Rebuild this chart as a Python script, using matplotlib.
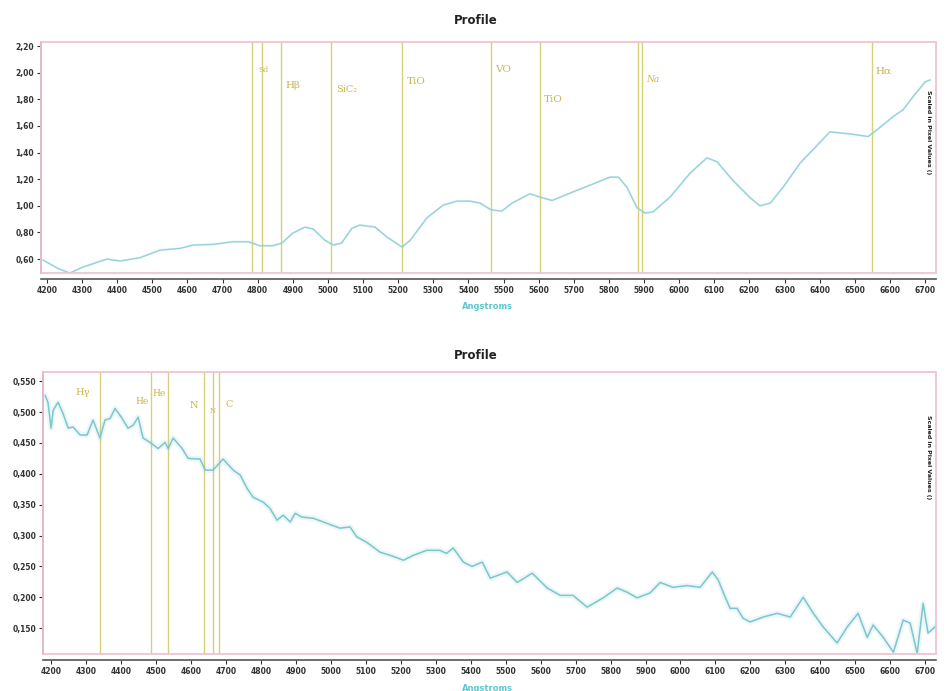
import matplotlib
matplotlib.use("Agg")
import matplotlib.pyplot as plt
from matplotlib.patches import Rectangle
from matplotlib.ticker import FuncFormatter, MultipleLocator

# Top spectrum (Angstrom, relative intensity)
top_wave = [4189, 4231, 4265, 4303, 4371, 4408, 4465, 4522, 4579, 4616, 4673, 4730,
            4773, 4806, 4843, 4869, 4900, 4935, 4958, 4992, 5015, 5039, 5068, 5091,
            5134, 5168, 5211, 5234, 5282, 5328, 5367, 5404, 5433, 5464, 5495, 5524,
            5575, 5604, 5638, 5689, 5746, 5803, 5827, 5851, 5880, 5903, 5926, 5974,
            6031, 6079, 6108, 6153, 6202, 6230, 6259, 6296, 6344, 6393, 6429, 6486,
            6538, 6563, 6609, 6637, 6666, 6700, 6714]
top_flux = [0.592, 0.53, 0.495, 0.54, 0.60, 0.585, 0.61, 0.667, 0.68, 0.705, 0.71, 0.73,
            0.73, 0.70, 0.70, 0.72, 0.795, 0.84, 0.825, 0.74, 0.705, 0.72, 0.83, 0.855,
            0.84, 0.765, 0.69, 0.74, 0.91, 1.005, 1.035, 1.035, 1.02, 0.97, 0.96, 1.02,
            1.09, 1.065, 1.04, 1.095, 1.155, 1.215, 1.215, 1.14, 0.985, 0.945, 0.955, 1.065,
            1.245, 1.36, 1.33, 1.19, 1.06, 1.00, 1.02, 1.14, 1.32, 1.455, 1.555, 1.54,
            1.52, 1.57, 1.67, 1.72, 1.82, 1.93, 1.945]

top_lines = [4784, 4812, 4867, 5008, 5212, 5463, 5604, 5883, 5895, 6548]
top_labels = ["Sd", "H\u03b2", "SiC\u2082", "TiO", "VO", "TiO", "Na", "H\u03b1"]
top_label_x = [4802, 4880, 5022, 5225, 5476, 5615, 5905, 6560]
top_label_y = [2.02, 1.90, 1.87, 1.93, 2.02, 1.80, 1.95, 2.01]
top_label_size = [5.5, 7.5, 7, 7.5, 7.5, 7.5, 6.5, 7.5]

# Bottom spectrum
bot_wave = [4183, 4191, 4200, 4206, 4220, 4234, 4249, 4263, 4283, 4303, 4320, 4340,
            4354, 4369, 4383, 4403, 4420, 4435, 4449, 4463, 4483, 4506, 4526, 4535,
            4549, 4575, 4592, 4626, 4641, 4663, 4692, 4721, 4741, 4760, 4778, 4807,
            4826, 4846, 4864, 4884, 4898, 4917, 4950, 4988, 5026, 5055, 5074, 5103,
            5141, 5170, 5208, 5236, 5274, 5312, 5331, 5350, 5379, 5404, 5433, 5456,
            5504, 5533, 5576, 5619, 5656, 5693, 5733, 5779, 5819, 5848, 5876, 5913,
            5942, 5979, 6019, 6056, 6091, 6108, 6128, 6142, 6162, 6179, 6199, 6237,
            6277, 6314, 6351, 6380, 6408, 6448, 6477, 6508, 6534, 6551, 6580, 6609,
            6637, 6657, 6677, 6694, 6708, 6734]
bot_flux = [0.527, 0.516, 0.474, 0.503, 0.516, 0.498, 0.474, 0.476, 0.463, 0.463, 0.487, 0.458,
            0.487, 0.490, 0.506, 0.490, 0.474, 0.479, 0.492, 0.458, 0.451, 0.441, 0.451, 0.441,
            0.458, 0.441, 0.425, 0.424, 0.406, 0.406, 0.424, 0.406, 0.398, 0.377, 0.362, 0.354,
            0.344, 0.325, 0.333, 0.322, 0.336, 0.330, 0.328, 0.320, 0.312, 0.314, 0.298, 0.289,
            0.273, 0.268, 0.260, 0.268, 0.276, 0.276, 0.271, 0.280, 0.257, 0.250, 0.257, 0.231,
            0.241, 0.224, 0.239, 0.215, 0.203, 0.203, 0.184, 0.199, 0.215, 0.208, 0.199, 0.207,
            0.224, 0.216, 0.219, 0.216, 0.241, 0.228, 0.200, 0.182, 0.182, 0.166, 0.160, 0.168,
            0.174, 0.168, 0.200, 0.174, 0.152, 0.126, 0.152, 0.174, 0.135, 0.155, 0.135, 0.111,
            0.163, 0.158, 0.109, 0.190, 0.142, 0.155]

bot_lines = [4340, 4485, 4534, 4638, 4664, 4679]
bot_labels = ["H\u03b3", "He", "He", "N", "N", "C"]
bot_label_x = [4270, 4440, 4490, 4595, 4653, 4700]
bot_label_y = [0.532, 0.518, 0.530, 0.510, 0.502, 0.512]
bot_label_size = [7, 6.5, 6.5, 7, 5, 7]

LINE_COL = "#d9cf78"
LABEL_COL = "#c8b64a"
CURVE_COL = "#92d2d8"
FRAME_COL = "#efc4d2"
AXIS_COL = "#555555"


def comma(decimals):
    return FuncFormatter(lambda v, p: ("{:.%df}" % decimals).format(v).replace(".", ","))


def style_axes(ax, ystep, decimals):
    for side in ["top", "right"]:
        ax.spines[side].set_visible(False)
    for side in ["left", "bottom"]:
        ax.spines[side].set_color(AXIS_COL)
        ax.spines[side].set_linewidth(1.2)
    ax.spines["bottom"].set_position(("outward", 4))
    ax.add_patch(Rectangle((0, 0), 1, 1, transform=ax.transAxes, fill=False,
                           edgecolor=FRAME_COL, linewidth=1.3, clip_on=False, zorder=5))
    ax.xaxis.set_major_locator(MultipleLocator(100))
    ax.yaxis.set_major_locator(MultipleLocator(ystep))
    ax.yaxis.set_major_formatter(comma(decimals))
    ax.tick_params(axis="both", labelsize=5.5, colors="#333333", length=3, width=0.8, pad=2)
    for lab in ax.get_xticklabels() + ax.get_yticklabels():
        lab.set_fontweight("bold")


fig = plt.figure(figsize=(9.46, 6.91), dpi=100)

# Top panel
ax1 = fig.add_axes([0.0433, 0.6049, 0.9461, 0.3343])
ax1.plot(top_wave, top_flux, color=CURVE_COL, linewidth=1.6, alpha=0.3, zorder=2)
ax1.plot(top_wave, top_flux, color=CURVE_COL, linewidth=0.9, zorder=3)
for w in top_lines:
    ax1.axvline(w, color=LINE_COL, linewidth=1.0, zorder=1)
for txt, x, y, s in zip(top_labels, top_label_x, top_label_y, top_label_size):
    ax1.text(x, y, txt, color=LABEL_COL, fontsize=s, family="DejaVu Serif",
             style="italic" if txt == "Na" else "normal", va="center")
ax1.set_xlim(4183, 6731)
ax1.set_ylim(0.495, 2.23)
style_axes(ax1, 0.2, 2)

# Bottom panel
ax2 = fig.add_axes([0.0455, 0.0535, 0.9440, 0.4081])
ax2.plot(bot_wave, bot_flux, color=CURVE_COL, linewidth=4.0, alpha=0.18, zorder=2)
ax2.plot(bot_wave, bot_flux, color="#7cc6cd", linewidth=1.1, zorder=3)
for w in bot_lines:
    ax2.axvline(w, color=LINE_COL, linewidth=1.0, zorder=1)
for txt, x, y, s in zip(bot_labels, bot_label_x, bot_label_y, bot_label_size):
    ax2.text(x, y, txt, color=LABEL_COL, fontsize=s, family="DejaVu Serif", va="center")
ax2.set_xlim(4177, 6731)
ax2.set_ylim(0.108, 0.565)
style_axes(ax2, 0.05, 3)

# Titles, x labels and right-side captions
for y in [0.971, 0.486]:
    fig.text(0.503, y, "Profile", ha="center", va="center", fontsize=8.5,
             fontweight="bold", color="#222222")
for y in [0.556, 0.004]:
    fig.text(0.515, y, "Angstroms", ha="center", va="center", fontsize=6,
             fontweight="bold", color="#5cc8d0")
for y in [0.87, 0.40]:
    fig.text(0.982, y, "Scaled in Pixel Values ()", ha="center", va="top",
             rotation=-90, fontsize=4.5, fontweight="bold", color="#222222")

fig.savefig("out.png", dpi=100)
